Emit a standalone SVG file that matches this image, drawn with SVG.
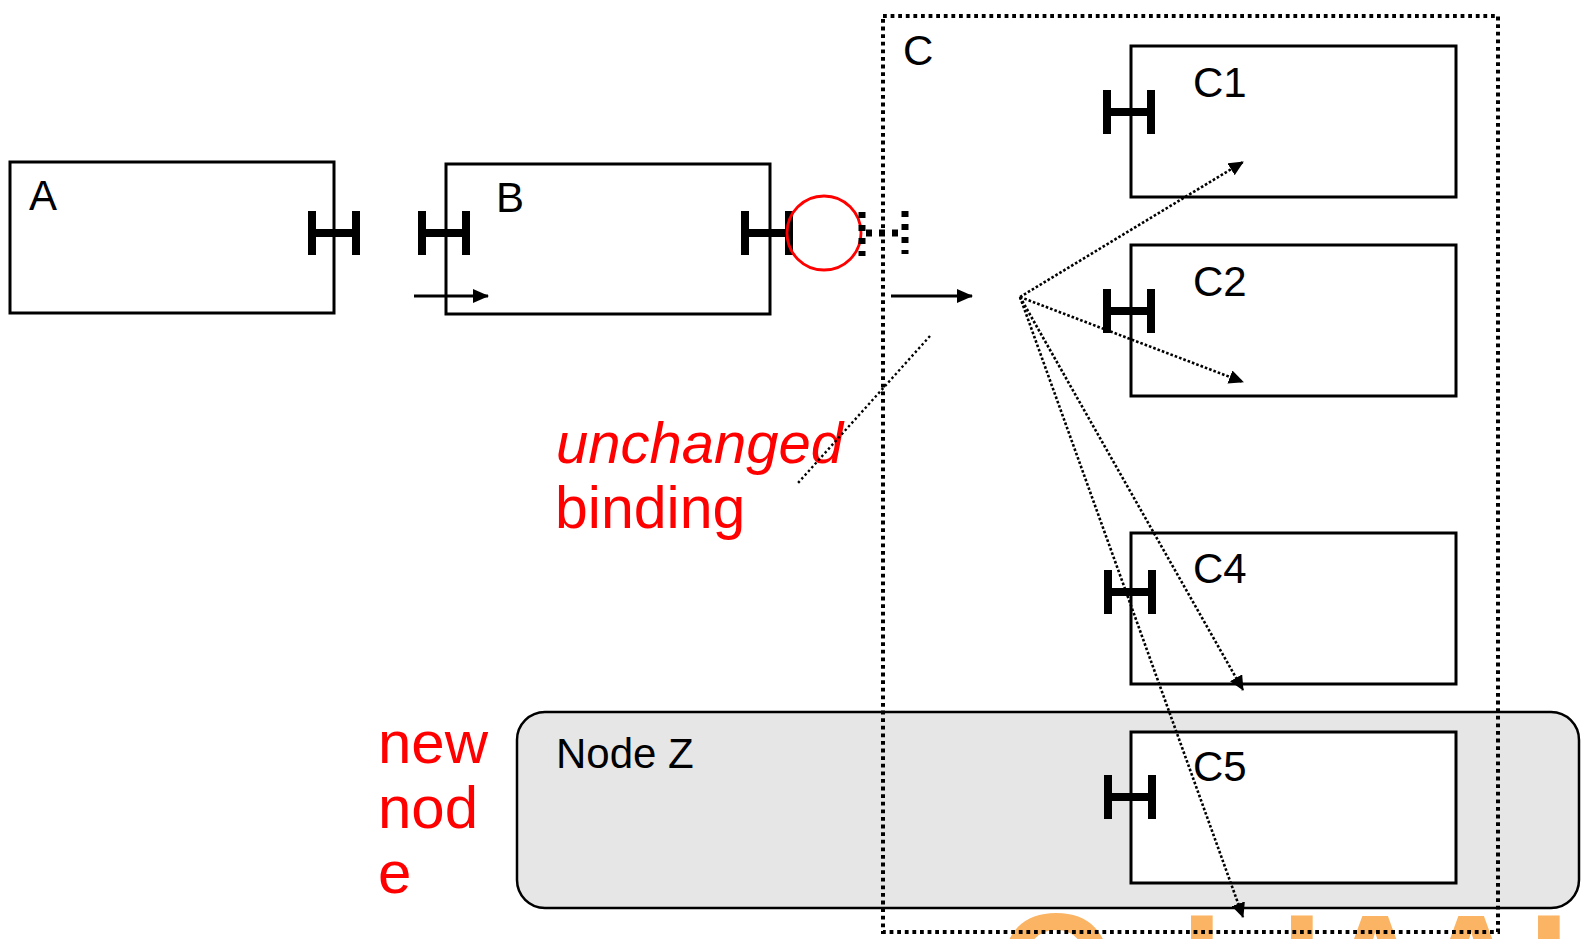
<svg xmlns="http://www.w3.org/2000/svg" width="1585" height="939" viewBox="0 0 1585 939">
<defs>
<style>
.box{fill:#fff;stroke:#000;stroke-width:3}
.lbl{font-family:"Liberation Sans",Arial,sans-serif;font-size:42px;fill:#000}
.red{font-family:"Liberation Sans",Arial,sans-serif;fill:#f00}
.dotc{fill:none;stroke:#000;stroke-width:4;stroke-dasharray:3.8 3.8}
.fan{fill:none;stroke:#000;stroke-width:2.6;stroke-dasharray:2.6 2}
.solid{fill:none;stroke:#000;stroke-width:3}
</style>
<g id="hport">
<rect x="-26" y="-22" width="8" height="44" fill="#000"/>
<rect x="18" y="-22" width="8" height="44" fill="#000"/>
<rect x="-18" y="-4" width="36" height="8" fill="#000"/>
</g>
<marker id="ah" markerUnits="userSpaceOnUse" markerWidth="16" markerHeight="14" refX="15" refY="7" orient="auto">
<path d="M0,0 L16,7 L0,14 z" fill="#000"/>
</marker>
<marker id="ahd" markerUnits="userSpaceOnUse" markerWidth="15" markerHeight="14" refX="14" refY="7" orient="auto">
<path d="M0,0 L15,7 L0,14 z" fill="#000"/>
</marker>
</defs>
<rect width="1585" height="939" fill="#fff"/>

<text x="998 1181 1281 1321 1417 1528" y="1019" font-family="Liberation Sans,Arial,sans-serif" font-weight="bold" font-size="150" fill="#FAB464">OIIAAI</text>

<g id="nodeA">
<rect class="box" x="10" y="162" width="324" height="151"/>
<text class="lbl" x="29" y="210">A</text>
<use href="#hport" x="334" y="233"/>
</g>

<g id="nodeB">
<rect class="box" x="446" y="164" width="324" height="150"/>
<text class="lbl" x="496" y="212">B</text>
<use href="#hport" x="444" y="233"/>
<use href="#hport" x="767" y="233"/>
<circle cx="824" cy="233" r="37" fill="none" stroke="#f00" stroke-width="2.8"/>
</g>

<g id="nodeZ">
<rect x="517" y="712" width="1062" height="196" rx="28" ry="28" fill="#e6e6e6" stroke="#000" stroke-width="2.5"/>
<text class="lbl" x="556" y="768">Node Z</text>
</g>

<g id="nodeC">
<rect class="dotc" x="883" y="16" width="615" height="916"/>
<text class="lbl" x="903" y="65">C</text>
<g fill="none" stroke="#000" stroke-width="7" stroke-dasharray="6 7">
<line x1="862" y1="212" x2="862" y2="256"/>
<line x1="905" y1="211" x2="905" y2="254"/>
<line x1="866" y1="233" x2="901" y2="233"/>
</g>
</g>

<g id="nodeC1">
<rect class="box" x="1131" y="46" width="325" height="151"/>
<text class="lbl" x="1193" y="97">C1</text>
<use href="#hport" x="1129" y="112"/>
</g>
<g id="nodeC2">
<rect class="box" x="1131" y="245" width="325" height="151"/>
<text class="lbl" x="1193" y="296">C2</text>
<use href="#hport" x="1129" y="311"/>
</g>
<g id="nodeC4">
<rect class="box" x="1131" y="533" width="325" height="151"/>
<text class="lbl" x="1193" y="583">C4</text>
<use href="#hport" x="1130" y="592"/>
</g>
<g id="nodeC5">
<rect class="box" x="1131" y="732" width="325" height="151"/>
<text class="lbl" x="1193" y="781">C5</text>
<use href="#hport" x="1130" y="797"/>
</g>

<g id="notes">
<text class="red" x="556" y="463" font-size="58" font-style="italic">unchanged</text>
<text class="red" x="555" y="528" font-size="59">binding</text>
<text class="red" x="378" y="763" font-size="60">new</text>
<text class="red" x="378" y="828" font-size="60">nod</text>
<text class="red" x="378" y="893" font-size="60">e</text>
</g>

<g id="connectors">
<line class="solid" x1="414" y1="296" x2="488" y2="296" marker-end="url(#ah)"/>
<line class="solid" x1="891" y1="296" x2="972" y2="296" marker-end="url(#ah)"/>
<line x1="930" y1="336" x2="798" y2="483" fill="none" stroke="#000" stroke-width="2.4" stroke-dasharray="2.4 2.6"/>
<line class="fan" x1="1020" y1="297" x2="1243" y2="162" marker-end="url(#ahd)"/>
<line class="fan" x1="1020" y1="297" x2="1243" y2="382" marker-end="url(#ahd)"/>
<line class="fan" x1="1020" y1="297" x2="1243" y2="690" marker-end="url(#ahd)"/>
<line class="fan" x1="1020" y1="297" x2="1243" y2="917" marker-end="url(#ahd)"/>
</g>
</svg>
